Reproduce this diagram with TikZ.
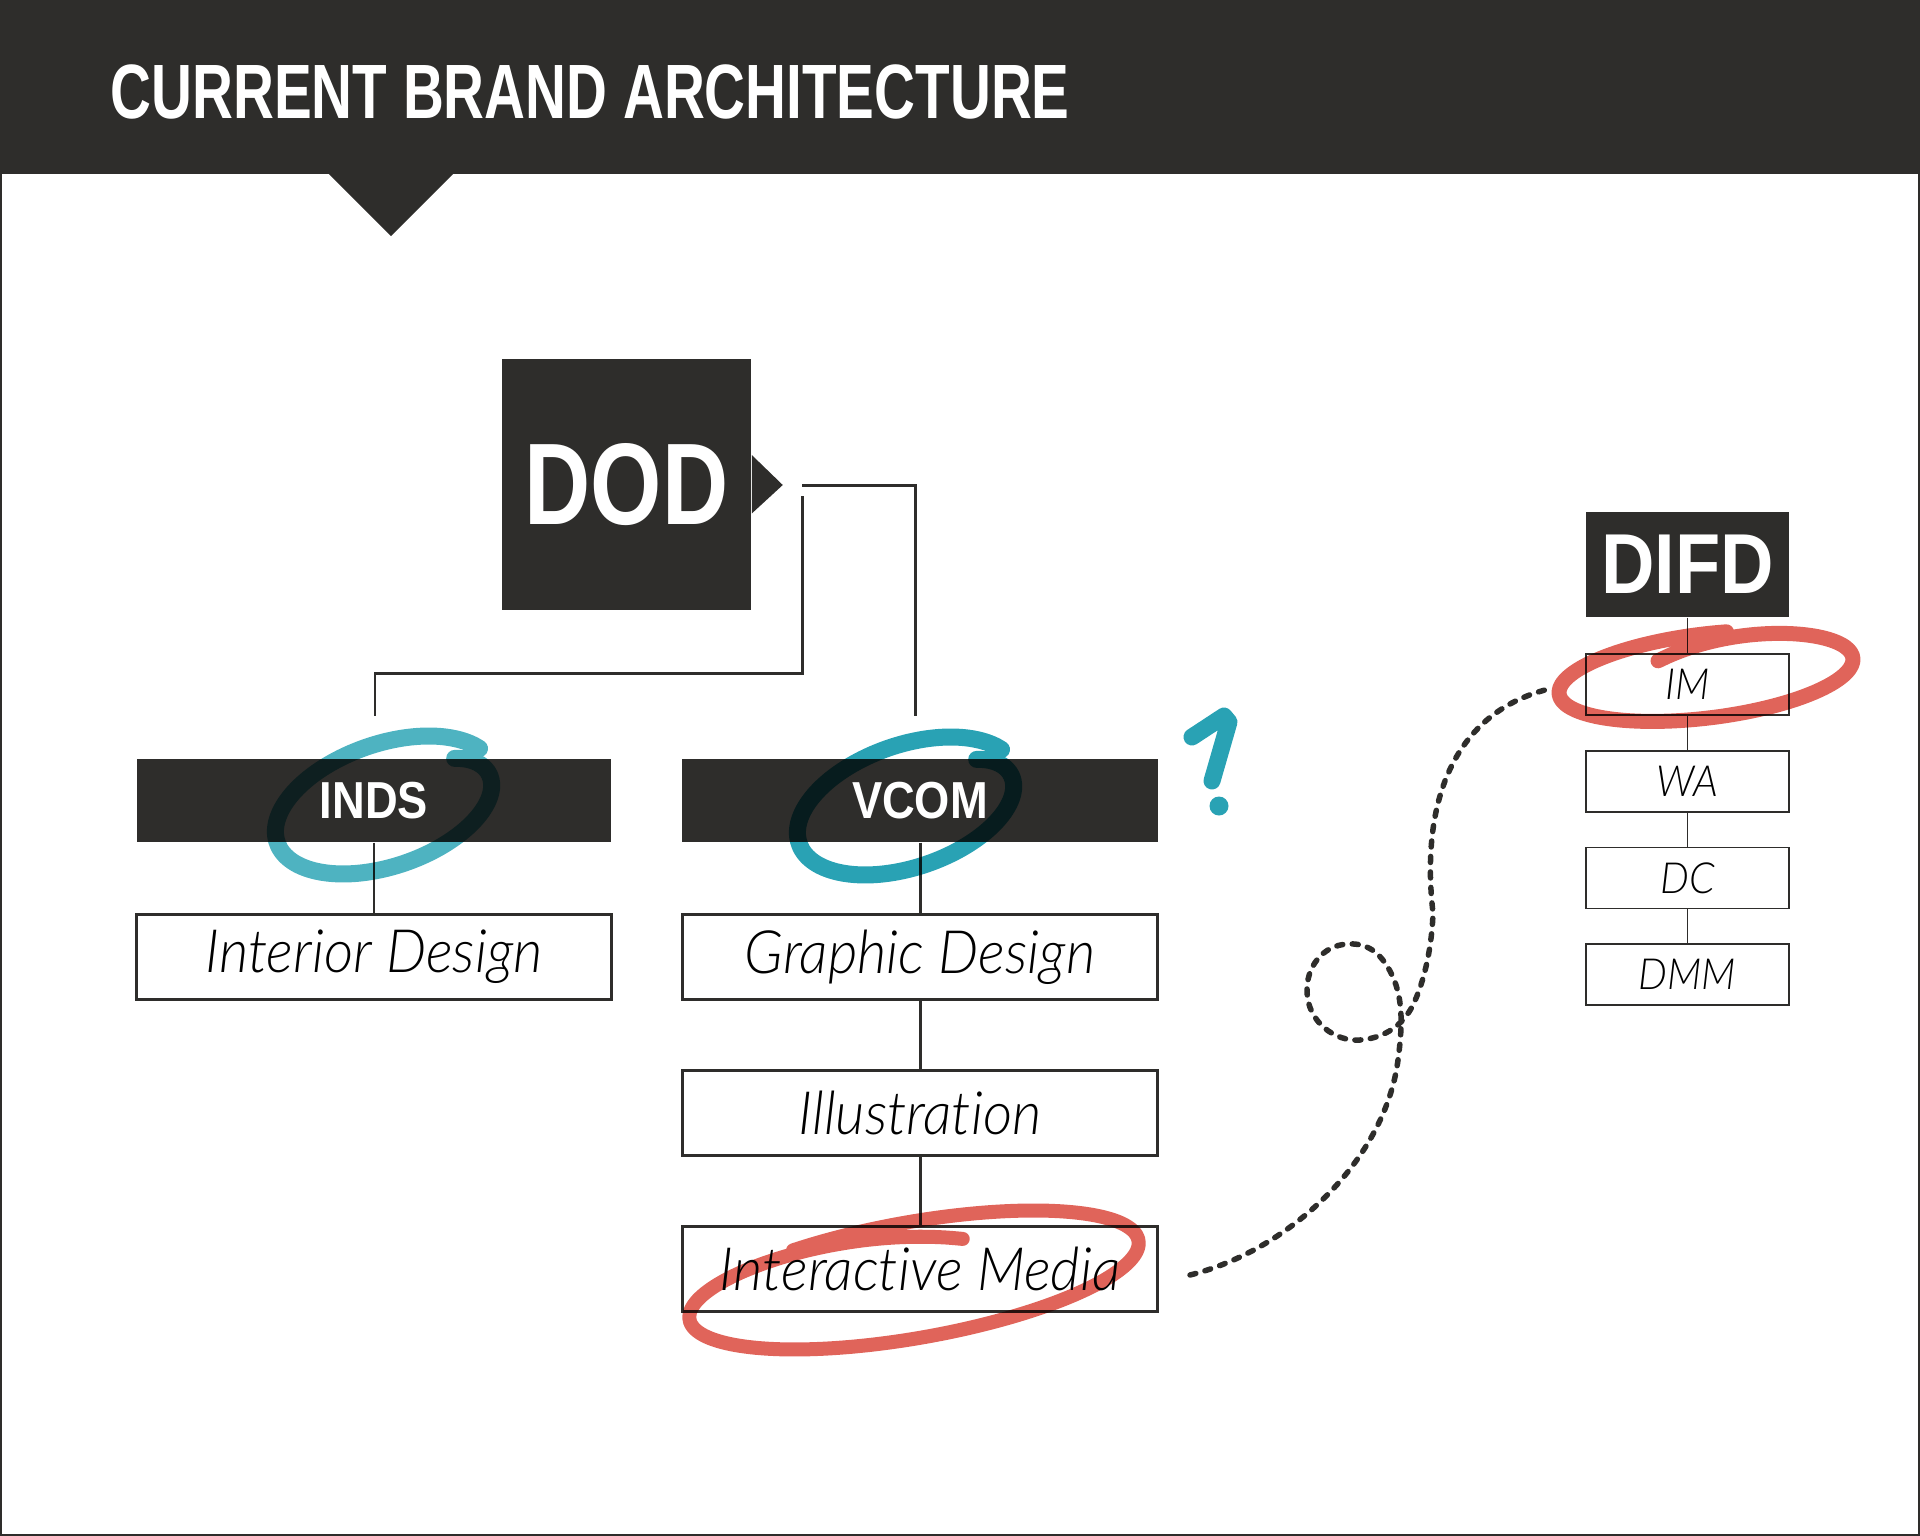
\documentclass[tikz,border=0pt]{standalone}
\usepackage{fontspec}
\setmainfont{Liberation Sans}
\newfontfamily\condfont[FakeStretch=0.735]{Liberation Sans}
\newfontfamily\dodfont[FakeStretch=0.79]{Liberation Sans}
\newfontfamily\tagfont[FakeStretch=0.87]{Liberation Sans}
\newfontfamily\lightfont[UprightFont=* Light, ItalicFont=* Light Italic,
  FakeStretch=0.95, Ligatures={NoCommon,NoContextual}]{Lato}
\usetikzlibrary{positioning}
\definecolor{ink}{RGB}{46,45,43}
\definecolor{tealA}{RGB}{78,179,193}
\definecolor{tealB}{RGB}{41,162,180}
\definecolor{marker}{RGB}{224,100,90}

\begin{document}
\begin{tikzpicture}[
  x=0.01cm, y=-0.01cm,
  dark/.style={fill=ink, text=white, inner sep=0pt},
  unit/.style={draw=ink, line width=0.85pt, fill=white, minimum width=4.75cm,
    minimum height=0.84cm, inner sep=0pt, font=\lightfont\itshape\fontsize{17}{17}\selectfont},
  sub/.style={draw=ink, line width=0.55pt, fill=white, minimum width=2.03cm,
    minimum height=0.61cm, inner sep=0pt, font=\lightfont\itshape\fontsize{12.2}{12}\selectfont},
  link/.style={draw=ink, line width=0.85pt},
  thin/.style={draw=ink, line width=0.55pt},
  dots/.style={ink, line width=0.055cm, line cap=round, dash pattern=on 0.06cm off 0.095cm},
  brush/.style={line width=0.17cm, line cap=round, line join=round}
]
\useasboundingbox (0,0) rectangle (1920,1536);
% header
\fill[ink] (0,0) rectangle (1920,174);
\fill[ink] (328,173) -- (454,173) -- (391,236) -- cycle;
\node[anchor=west, text=white, inner sep=0pt, font=\condfont\bfseries\fontsize{21.9}{22}\selectfont]
  (title) at (110,91.5) {CURRENT BRAND ARCHITECTURE};
\draw[ink, line width=0.6pt] (1,1) rectangle (1919,1535);

% DOD
\node[dark, minimum width=2.49cm, minimum height=2.51cm,
  font=\dodfont\bfseries\fontsize{33}{33}\selectfont] (dod) at (626.5,484.5) {DOD};
\fill[ink] (dod.east) ++(0,-29.5) -- ++(31,30) -- ++(-31,28.5) -- cycle;
\coordinate (forkA) at (802,485);
\coordinate (forkB) at (802,496);
\coordinate (elbow) at (375,673);
\coordinate (vcomIn) at (915,716);
\coordinate (indsIn) at (375,716);
\draw[link] (forkA) -| (vcomIn);
\draw[link] (forkB) |- (elbow) -- (indsIn);

% programmes
\node[dark, minimum width=4.74cm, minimum height=0.83cm,
  font=\tagfont\bfseries\fontsize{14.8}{15}\selectfont] (inds) at (374,800.5) {INDS};
\node[dark, minimum width=4.75cm, minimum height=0.83cm,
  font=\tagfont\bfseries\fontsize{14.8}{15}\selectfont] (vcom) at (920,800.5) {VCOM};
\node[unit] (interior) at (374,957) {Interior Design};
\node[unit] (graphic) at (920,957) {Graphic Design};
\node[unit] (illus) at (920,1113) {Illustration};
\node[unit] (intmedia) at (920,1269) {Interactive Media};
\draw[link] (inds) -- (interior);
\draw[link] (vcom) -- (graphic);
\draw[link] (graphic) -- (illus);
\draw[link] (illus) -- (intmedia);

% DIFD
\node[dark, minimum width=2.03cm, minimum height=1.05cm,
  font=\tagfont\bfseries\fontsize{24.2}{24}\selectfont] (difd) at (1687.5,564.5) {DIFD};
\node[sub] (im) at (1687.5,684.5) {IM};
\node[sub] (wa) at (1687.5,781.5) {WA};
\node[sub] (dc) at (1687.5,878) {DC};
\node[sub] (dmm) at (1687.5,974.5) {DMM};
\draw[thin] (difd) -- (im);
\draw[thin] (im) -- (wa);
\draw[thin] (wa) -- (dc);
\draw[thin] (dc) -- (dmm);

% marker loops
\begin{scope}[blend mode=multiply]
  \begin{scope}[shift={(386,805)}, xslant=0.62]
    \draw[brush, tealA] plot[domain=300:665, samples=90, smooth]
      ({102*(1-0.22*exp(-(\x-300)/25))*cos(\x)}, {69*(1-0.22*exp(-(\x-300)/25))*sin(\x)});
  \end{scope}
  \begin{scope}[shift={(908,806)}, xslant=0.62]
    \draw[brush, tealB] plot[domain=300:665, samples=90, smooth]
      ({102*(1-0.22*exp(-(\x-300)/25))*cos(\x)}, {69*(1-0.22*exp(-(\x-300)/25))*sin(\x)});
  \end{scope}
  \begin{scope}[shift={(1706,676)}, rotate=7]
    \draw[brush, marker, line width=0.15cm] plot[domain=252:640, samples=90, smooth]
      ({148*cos(\x)}, {(42-20*exp(-(\x-252)/25))*sin(\x)});
  \end{scope}
  \begin{scope}[shift={(914,1280)}, rotate=10]
    \draw[brush, marker, line width=0.14cm] plot[domain=-120:284, samples=100, smooth]
      ({228*cos(\x)}, {(58-25*exp(-(284-\x)/25))*sin(\x)});
  \end{scope}
  % question mark
  \draw[brush, tealB, line width=0.17cm] (1192,737) -- (1224,716) -- (1229,722) -- (1212,781);
  \fill[tealB] (1219,806) circle (9.5);
\end{scope}

% dotted route
\coordinate (routeA) at (1190,1275);
\coordinate (routeB) at (1553,688);
\draw[dots] (routeA) .. controls (1290,1250) and (1385,1160) .. (1398,1060)
  .. controls (1402,1030) and (1404,1000) .. (1392,975)
  .. controls (1380,950) and (1365,943) .. (1348,944)
  .. controls (1322,945) and (1306,968) .. (1307,992)
  .. controls (1308,1022) and (1335,1042) .. (1360,1040)
  .. controls (1385,1038) and (1403,1025) .. (1413,1005)
  .. controls (1425,980) and (1432,945) .. (1433,913)
  .. controls (1420,800) and (1455,710) .. (routeB);
\end{tikzpicture}
\end{document}
